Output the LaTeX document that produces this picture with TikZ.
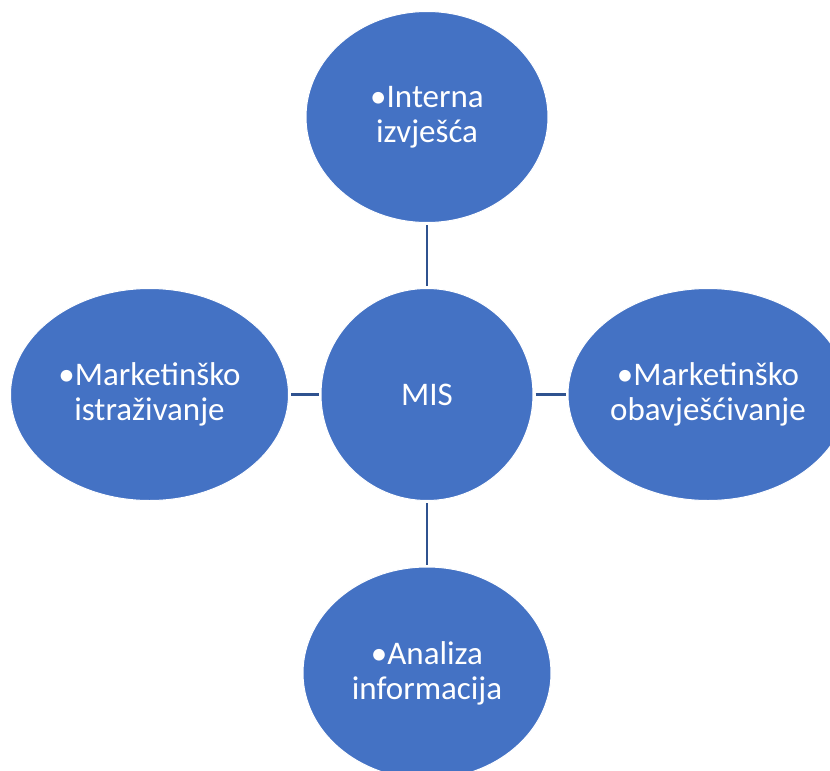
\documentclass[tikz,border=0pt]{standalone}
\usepackage{fontspec}
\setmainfont{Carlito}
\usepackage{xcolor}
\usepackage{tikz}
\usetikzlibrary{shapes.geometric}
\definecolor{misplava}{HTML}{4472C4}
\definecolor{misveza}{HTML}{2F528F}
\tikzset{
	krug/.style={
			circle, fill=misplava, draw=white, line width=1pt,
			minimum size=212pt, inner sep=0pt,
			text=white, align=center,
			font=\fontsize{33}{35}\selectfont
		},
	elipsa/.style={
			krug, ellipse, minimum size=0pt
		},
	veza/.style={
			draw=misveza, line width=2.5pt, shorten <=2pt, shorten >=2pt
		}
}

\begin{document}
\begin{tikzpicture}[x=1pt, y=-1pt]

  \useasboundingbox (0,0) rectangle (830,771);
  \clip (0,0) rectangle (830,771);

  \node[krug] (mis) at (427,394.5) {MIS};
  \node[elipsa, minimum width=242pt, minimum height=211pt] (interna) at (427,117) {•Interna\\izvješća};
  \node[elipsa, minimum width=278pt, minimum height=212pt] (istrazivanje) at (149.5,394.5) {•Marketinško\\istraživanje};
  \node[elipsa, minimum width=280pt, minimum height=212pt] (obavjescivanje) at (708,394.5) {•Marketinško\\obavješćivanje};
  \node[elipsa, minimum width=248pt, minimum height=212pt] (analiza) at (427,673) {•Analiza\\informacija};

    \path (mis) edge [veza] (interna)
    edge [veza] (istrazivanje)
    edge [veza] (obavjescivanje)
    edge [veza] (analiza);

    \end{tikzpicture}
\end{document}
